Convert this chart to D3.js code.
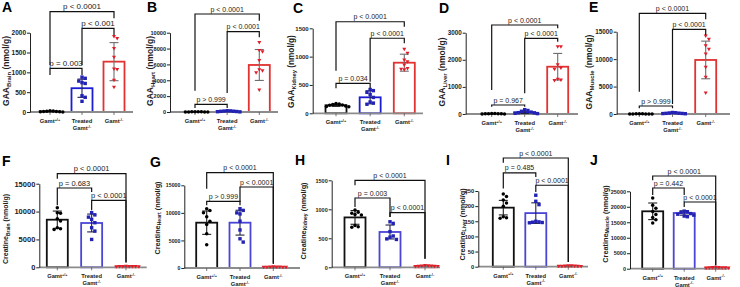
<!DOCTYPE html>
<html><head><meta charset="utf-8">
<script src="https://cdn.jsdelivr.net/npm/d3@7"></script>
<style>body{margin:0;background:#fff}svg{display:block}</style>
</head><body><svg id="c" width="740" height="287"></svg>
<script>
// ---------------- DATA ----------------
const groups = ["Gamt+/+", "Treated Gamt-/-", "Gamt-/-"];
const xTickLabels = [[["Gamt", "+/+"]], [["Treated", ""], ["Gamt", "-/-"]], [["Gamt", "-/-"]]];
const panelLetters = ["A", "B", "C", "D", "E", "F", "G", "H", "I", "J"];
const yMeasure = ["GAA", "GAA", "GAA", "GAA", "GAA", "Creatine", "Creatine", "Creatine", "Creatine", "Creatine"];
const yTissue = ["Brain", "Heart", "Kidney", "Liver", "Muscle", "Brain", "Heart", "Kidney", "Liver", "Muscle"];
const yUnit = " (nmol/g)";
const yMax = [2000, 10000, 1500, 3000, 15000, 15000, 15000, 1500, 250, 25000];
const yStep = [500, 2000, 500, 1000, 5000, 5000, 5000, 500, 50, 5000];

// GAA brain
const gaaBrainMean = [12, 600, 1270], gaaBrainSD = [8, 230, 480];
const gaaBrainWT = [30, 25, 20, 15, 12, 8, 5, 2];
const gaaBrainTreated = [880, 850, 780, 740, 720, 410, 370, 270];
const gaaBrainKO = [1900, 1850, 1600, 1380, 1080, 1070, 800, 620];
// GAA heart
const gaaHeartMean = [20, 90, 5930], gaaHeartSD = [10, 40, 1950];
const gaaHeartWT = [40, 30, 25, 20, 15, 10, 8, 5];
const gaaHeartTreated = [160, 140, 120, 100, 80, 60, 40, 20];
const gaaHeartKO = [8740, 7730, 7600, 6470, 5300, 5200, 4950, 2770];
// GAA kidney
const gaaKidneyMean = [142, 282, 893], gaaKidneySD = [20, 115, 150];
const gaaKidneyWT = [175, 165, 155, 148, 140, 130, 122, 115];
const gaaKidneyTreated = [420, 400, 370, 330, 280, 200, 180, 160];
const gaaKidneyKO = [1130, 1060, 940, 910, 850, 790, 775, 765];
// GAA liver
const gaaLiverMean = [10, 60, 1745], gaaLiverSD = [6, 40, 490];
const gaaLiverWT = [20, 15, 12, 10, 8, 6, 4, 2];
const gaaLiverTreated = [160, 130, 100, 70, 50, 40, 25, 15];
const gaaLiverKO = [2480, 2480, 1810, 1690, 1650, 1280, 1250, 1230];
// GAA muscle
const gaaMuscleMean = [20, 150, 9850], gaaMuscleSD = [10, 60, 3430];
const gaaMuscleWT = [40, 30, 25, 20, 15, 12, 10, 5];
const gaaMuscleTreated = [280, 230, 190, 150, 120, 100, 80, 50];
const gaaMuscleKO = [14200, 13600, 12400, 11800, 10900, 8500, 6700, 3800];
// Creatine brain
const creBrainMean = [8540, 7950, 120], creBrainSD = [1550, 1600, 30];
const creBrainWT = [10700, 9800, 9700, 8700, 8300, 7100, 6900, 6800];
const creBrainTreated = [9800, 9400, 9000, 8600, 8000, 7100, 6500, 5000];
const creBrainKO = [160, 140, 130, 120, 110, 100, 90, 110];
// Creatine heart
const creHeartMean = [8220, 8220, 150], creHeartSD = [2120, 2250, 40];
const creHeartWT = [10750, 10450, 10000, 9300, 8500, 7900, 6200, 4200];
const creHeartTreated = [10750, 10450, 10000, 9800, 8500, 6900, 5300, 4700];
const creHeartKO = [200, 180, 160, 150, 140, 130, 120, 110];
// Creatine kidney
const creKidneyMean = [860, 609, 20], creKidneySD = [118, 120, 5];
const creKidneyWT = [990, 950, 930, 910, 900, 720, 700, 690];
const creKidneyTreated = [785, 757, 615, 540, 520, 490, 480];
const creKidneyKO = [30, 25, 22, 20, 18, 15, 12, 10];
// Creatine liver
const creLiverMean = [195, 177, 2], creLiverSD = [24, 34, 1];
const creLiverWT = [240, 232, 220, 210, 200, 165, 162, 160];
const creLiverTreated = [236, 216, 205, 150, 148, 147, 146, 145];
const creLiverKO = [3, 2.5, 2, 2, 1.5, 1, 1, 0.5];
// Creatine muscle
const creMuscleMean = [18540, 17990, 300], creMuscleSD = [2680, 700, 80];
const creMuscleWT = [22800, 20500, 19500, 18500, 17500, 16500, 15800, 14800];
const creMuscleTreated = [18600, 18400, 18200, 17800, 17600, 17300, 17000, 16800];
const creMuscleKO = [400, 350, 320, 300, 280, 250, 220, 200];

// significance brackets: [groupA, groupB, label, level, leftLegEnd, rightLegEnd] (data units)
const brA = [[0, 2, "p < 0.0001", 2530, 1185, 2363], [1, 2, "p < 0.001", 2111, 1185, 1942], [0, 1, "p = 0.003", 1102, 933, 933]];
const brB = [[0, 2, "p < 0.0001", 12358, 2686, 11513], [1, 2, "p < 0.0001", 10126, 2396, 9420], [0, 1, "p > 0.999", 971, 504, 504]];
const brC = [[0, 2, "p < 0.0001", 1616, 752, 1528], [1, 2, "p < 0.0001", 1324, 558, 1235], [0, 1, "p = 0.034", 529, 441, 441]];
const brD = [[0, 2, "p < 0.0001", 3284, 886, 3162], [1, 2, "p < 0.0001", 2793, 764, 2668], [0, 1, "p = 0.967", 332, 269, 269]];
const brE = [[0, 2, "p < 0.0001", 18353, 4064, 17260], [1, 2, "p < 0.0001", 15437, 1823, 14398], [0, 1, "p > 0.999", 1458, 1039, 1039]];
const brF = [[0, 2, "p < 0.0001", 16794, 15897, 951], [0, 1, "p = 0.683", 14228, 11124, 13511], [1, 2, "p < 0.0001", 12022, 10227, 825]];
const brG = [[0, 2, "p < 0.0001", 17285, 14383, 780], [1, 2, "p < 0.0001", 14692, 11971, 780], [0, 1, "p > 0.999", 12098, 11373, 11373]];
const brH = [[0, 2, "p < 0.0001", 1500, 1414, 148], [0, 1, "p = 0.003", 1195, 1040, 867], [1, 2, "p < 0.0001", 941, 867, 148]];
const brI = [[0, 2, "p < 0.0001", 359, 343, 15.5], [0, 1, "p = 0.485", 310, 258, 296], [1, 2, "p < 0.0001", 269, 247, 15.5]];
const brJ = [[0, 2, "p < 0.0001", 29942, 28553, 1098], [0, 1, "p = 0.442", 26066, 23805, 23805], [1, 2, "p < 0.0001", 21544, 19929, 1098]];

// ---------------- LAYOUT (pixels) ----------------
const layouts = [
  {axisX: 30, c0: 50, c2: 114, xEnd: 133, y0: 112, yTop: 32.7, lx: 2, ly: 12, tx: 8.8, ty: 71, fsTick: 6.5, fsP: 8, fsT: 8.5},
  {axisX: 170, c0: 195, c2: 259.3, xEnd: 278, y0: 112, yTop: 32.7, lx: 147, ly: 12, tx: 152.8, ty: 71, fsTick: 5.6, fsP: 7, fsT: 8.5},
  {axisX: 312.7, c0: 336, c2: 404.3, xEnd: 423, y0: 113.3, yTop: 28.3, lx: 293, ly: 13, tx: 294, ty: 71.5, fsTick: 6, fsP: 7, fsT: 8.3},
  {axisX: 465.7, c0: 491.7, c2: 557.7, xEnd: 578, y0: 114, yTop: 32.7, lx: 439, ly: 13, tx: 445, ty: 72, fsTick: 6.3, fsP: 7, fsT: 8.5},
  {axisX: 616.7, c0: 639.3, c2: 705.7, xEnd: 730, y0: 114, yTop: 31.7, lx: 589, ly: 12, tx: 591.5, ty: 72, fsTick: 6.3, fsP: 7, fsT: 8.5},
  {axisX: 39.3, c0: 57.3, c2: 126, xEnd: 146.7, y0: 267.3, yTop: 183.7, lx: 2, ly: 166, tx: 8.3, ty: 229, fsTick: 7.5, fsP: 7.5, fsT: 7},
  {axisX: 184.3, c0: 206.7, c2: 273.3, xEnd: 300, y0: 268, yTop: 185.3, lx: 150, ly: 167, tx: 159.5, ty: 218, fsTick: 5.2, fsP: 7, fsT: 7.3},
  {axisX: 331.7, c0: 355, c2: 425, xEnd: 440, y0: 267.3, yTop: 180.3, lx: 295, ly: 165, tx: 305.5, ty: 221, fsTick: 5.5, fsP: 7, fsT: 7.3},
  {axisX: 478.3, c0: 503.3, c2: 568.3, xEnd: 588, y0: 266.7, yTop: 191, lx: 446, ly: 165, tx: 464.5, ty: 224.5, fsTick: 5.8, fsP: 7, fsT: 7.3},
  {axisX: 630, c0: 652.7, c2: 715.7, xEnd: 730, y0: 268.7, yTop: 191.3, lx: 590, ly: 165, tx: 607.5, ty: 224, fsTick: 5.5, fsP: 7, fsT: 7.3}
];

const panels = [
  {mean: gaaBrainMean, sd: gaaBrainSD, pts: [gaaBrainWT, gaaBrainTreated, gaaBrainKO], br: brA},
  {mean: gaaHeartMean, sd: gaaHeartSD, pts: [gaaHeartWT, gaaHeartTreated, gaaHeartKO], br: brB},
  {mean: gaaKidneyMean, sd: gaaKidneySD, pts: [gaaKidneyWT, gaaKidneyTreated, gaaKidneyKO], br: brC},
  {mean: gaaLiverMean, sd: gaaLiverSD, pts: [gaaLiverWT, gaaLiverTreated, gaaLiverKO], br: brD},
  {mean: gaaMuscleMean, sd: gaaMuscleSD, pts: [gaaMuscleWT, gaaMuscleTreated, gaaMuscleKO], br: brE},
  {mean: creBrainMean, sd: creBrainSD, pts: [creBrainWT, creBrainTreated, creBrainKO], br: brF},
  {mean: creHeartMean, sd: creHeartSD, pts: [creHeartWT, creHeartTreated, creHeartKO], br: brG},
  {mean: creKidneyMean, sd: creKidneySD, pts: [creKidneyWT, creKidneyTreated, creKidneyKO], br: brH},
  {mean: creLiverMean, sd: creLiverSD, pts: [creLiverWT, creLiverTreated, creLiverKO], br: brI},
  {mean: creMuscleMean, sd: creMuscleSD, pts: [creMuscleWT, creMuscleTreated, creMuscleKO], br: brJ}
];

// ---------------- STYLE ----------------
const FONT = '"Liberation Sans", Arial, Helvetica, sans-serif';
const BW = 21;
const barColTop = ["#111111", "#1c1cd2", "#e23232"];
const barColBot = ["#111111", "#4b45d6", "#e23232"];
const ptCol = ["#000000", "#2222b4", "#e01e2a"];
const errCol = ["#222222", "#222244", "#6e6e6e"];

const svg = d3.select("#c");
svg.append("rect").attr("width", 740).attr("height", 287).attr("fill", "#fff");

function swarm(vals, y, step, thr) {
  const pts = vals.map(v => ({v: v, py: y(v)})).sort((a, b) => a.py - b.py);
  const placed = [];
  pts.forEach(p => {
    for (let k = 0; k < 60; k++) {
      const off = k === 0 ? 0 : (k % 2 ? 1 : -1) * Math.ceil(k / 2) * step;
      if (placed.every(q => Math.abs(q.dx - off) >= step * 0.99 || Math.abs(q.py - p.py) >= thr)) { p.dx = off; break; }
    }
    placed.push(p);
  });
  return placed;
}

const markers = [
  g => g.append("circle").attr("r", 1.75),
  g => g.append("rect").attr("x", -1.7).attr("y", -1.7).attr("width", 3.4).attr("height", 3.4),
  g => g.append("path").attr("d", "M-2,-1.6L2,-1.6L0,1.9Z")
];

panels.forEach((P, pi) => {
  const L = layouts[pi];
  const row = pi < 5 ? 0 : 1;
  const barCol = row === 0 ? barColTop : barColBot;
  const y = d3.scaleLinear().domain([0, yMax[pi]]).range([L.y0, L.yTop]);
  const x = d3.scalePoint().domain([0, 1, 2]).range([L.c0, L.c2]);
  const g = svg.append("g");

  // bars
  g.selectAll("rect.bar").data(P.mean).join("rect").attr("class", "bar")
    .attr("x", (d, i) => x(i) - BW / 2).attr("y", d => y(d))
    .attr("width", BW).attr("height", d => Math.max(0, L.y0 - y(d)))
    .attr("fill", "#fff").attr("stroke", (d, i) => barCol[i]).attr("stroke-width", 1.8);

  // x axis
  g.append("line").attr("x1", L.axisX).attr("x2", L.xEnd).attr("y1", L.y0).attr("y2", L.y0)
    .attr("stroke", "#8c8c8c").attr("stroke-width", 1.8);
  [0, 1, 2].forEach(i => g.append("line").attr("x1", x(i)).attr("x2", x(i))
    .attr("y1", L.y0).attr("y2", L.y0 + 3).attr("stroke", "#555").attr("stroke-width", 0.8));

  // y axis
  const ax = g.append("g").attr("transform", `translate(${L.axisX},0)`)
    .call(d3.axisLeft(y).tickValues(d3.range(0, yMax[pi] + yStep[pi] / 2, yStep[pi]))
      .tickSize(3).tickSizeOuter(0).tickFormat(d3.format("d")));
  ax.select(".domain").attr("stroke", "#222").attr("stroke-width", 1);
  ax.selectAll(".tick line").attr("stroke", "#222").attr("stroke-width", 1);
  ax.selectAll(".tick text").attr("font-family", FONT).attr("font-weight", "bold")
    .attr("font-size", L.fsTick).attr("x", -4).attr("fill", "#222");

  // error bars
  P.mean.forEach((m, i) => {
    const cx = x(i), sd = P.sd[i], cw = 4.5;
    const e = g.append("g").attr("stroke", errCol[i]).attr("stroke-width", 1.1);
    e.append("line").attr("x1", cx).attr("x2", cx).attr("y1", y(Math.max(0, m - sd))).attr("y2", y(m + sd));
    e.append("line").attr("x1", cx - cw).attr("x2", cx + cw).attr("y1", y(m + sd)).attr("y2", y(m + sd));
    if (m - sd > 0) e.append("line").attr("x1", cx - cw).attr("x2", cx + cw).attr("y1", y(m - sd)).attr("y2", y(m - sd));
  });

  // points
  P.pts.forEach((vals, i) => {
    swarm(vals, y, 3.2, 4.6).forEach(p => {
      const mg = g.append("g").attr("transform", `translate(${x(i) + p.dx},${p.py})`).attr("fill", ptCol[i]);
      markers[i](mg);
    });
  });

  // x labels
  xTickLabels.forEach((lines, i) => {
    lines.forEach((ln, li) => {
      const t = g.append("text").attr("x", x(i)).attr("y", L.y0 + 10.8 + li * 7)
        .attr("text-anchor", "middle").attr("font-family", FONT).attr("font-weight", "bold")
        .attr("font-size", 5.8).attr("fill", "#222");
      t.append("tspan").text(ln[0]);
      if (ln[1]) t.append("tspan").attr("dy", -2.3).attr("font-size", 3.8).text(ln[1]);
    });
  });

  // y title
  const tt = g.append("text").attr("transform", `translate(${L.tx},${L.ty}) rotate(-90)`)
    .attr("text-anchor", "middle").attr("font-family", FONT).attr("font-weight", "bold")
    .attr("font-size", L.fsT).attr("fill", "#222");
  tt.append("tspan").text(yMeasure[pi]);
  tt.append("tspan").attr("dy", L.fsT * 0.25).attr("font-size", L.fsT * 0.7).text(yTissue[pi]);
  tt.append("tspan").attr("dy", -L.fsT * 0.25).text(yUnit);

  // brackets
  P.br.forEach(b => {
    const [a, c, lab, lev, le, re] = b;
    g.append("path").attr("d", `M${x(a)},${y(le)}V${y(lev)}H${x(c)}V${y(re)}`)
      .attr("fill", "none").attr("stroke", "#111").attr("stroke-width", 1.2);
    g.append("text").attr("x", (x(a) + x(c)) / 2).attr("y", y(lev) - 2.4)
      .attr("text-anchor", "middle").attr("font-family", FONT).attr("font-size", L.fsP)
      .attr("fill", "#222").text(lab);
  });

  // panel letter
  svg.append("text").attr("x", L.lx).attr("y", L.ly).attr("font-family", FONT)
    .attr("font-weight", "bold").attr("font-size", 14).attr("fill", "#000").text(panelLetters[pi]);
});
</script></body></html>
